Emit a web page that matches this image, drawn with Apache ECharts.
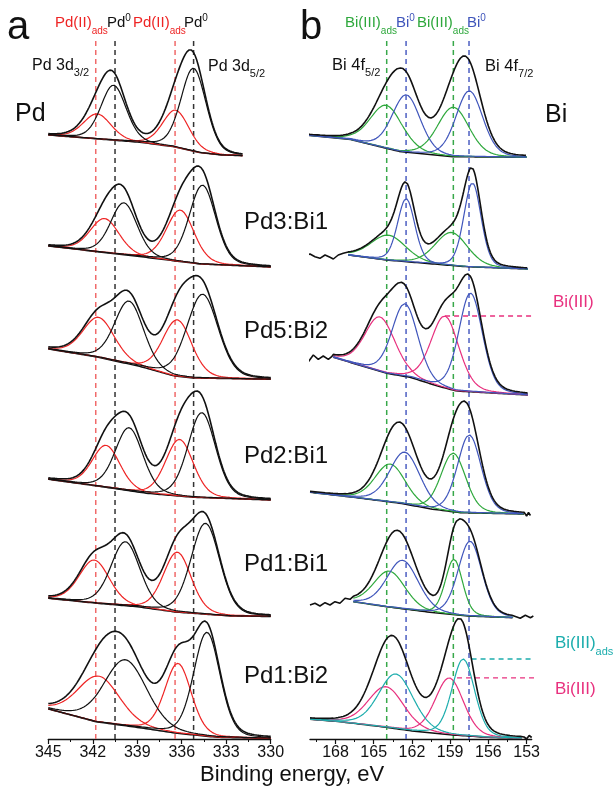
<!DOCTYPE html>
<html><head><meta charset="utf-8">
<script src="https://cdn.jsdelivr.net/npm/echarts@6/dist/echarts.min.js"></script>
<style>html,body{margin:0;padding:0;background:#fff}#c{width:616px;height:787px}</style>
</head><body><div id="c"></div>
<script>
// ================= DATA =================
const pdTicks = [345, 342, 339, 336, 333, 330];
const biTicks = [168, 165, 162, 159, 156, 153];
const biMinorTicks = [169.5, 166.5, 163.5, 160.5, 157.5, 154.5];
const pdRefLines = [341.8, 340.5, 336.45, 335.2];          // Pd(II)ads, Pd0, Pd(II)ads, Pd0
const pdRefKinds = ['Pd(II)ads', 'Pd0', 'Pd(II)ads', 'Pd0'];
const biRefLines = [163.98, 162.46, 158.75, 157.52];       // Bi(III)ads, Bi0, Bi(III)ads, Bi0
const biRefKinds = ['Bi(III)ads', 'Bi0', 'Bi(III)ads', 'Bi0'];
const samples = ['Pd', 'Pd3:Bi1', 'Pd5:Bi2', 'Pd2:Bi1', 'Pd1:Bi1', 'Pd1:Bi2'];

// Pd 3d: energy range of each spectrum (eV, stacked intensity, arb. units)
const pdRange = [[345, 331.9], [345, 330], [345, 330], [345, 330], [345, 330], [345, 330]];
const pdBaseline = [
  [[345, 604], [338.8, 596.7], [336.55, 592.3], [334.75, 586.3], [333.3, 584], [331.9, 583.3]],
  [[345, 493], [338.6, 482], [334.75, 475], [330, 472]],
  [[345, 390], [341.7, 382], [338.8, 372.5], [336.5, 363], [335.2, 361], [330, 359.7]],
  [[345, 259.7], [341.7, 253], [338.35, 245.7], [335.2, 241.7], [330, 239]],
  [[345, 140.7], [341.7, 135.7], [339.0, 132.3], [336.45, 127], [332.7, 123], [330, 122.5]],
  [[345, 30], [341.8, 17.3], [338.55, 10.7], [336.3, 5.7], [333.6, 1.7], [330, 0.5]]
];
// fitted components: [centre eV, height, FWHM eV]  (3d3/2, 3d5/2)
const pdOxide = [
  [[341.7, 25, 2.2], [336.4, 37, 2.1]],
  [[341.2, 34, 2.3], [336.1, 51.5, 2.2]],
  [[341.6, 40, 2.5], [336.3, 56.5, 2.3]],
  [[341.1, 42, 2.2], [336.15, 56.7, 2.2]],
  [[341.9, 43, 2.4], [336.3, 60, 2.2]],
  [[341.6, 46, 3.3], [336.25, 70, 2.1]]
];
const pdMetal = [
  [[340.6, 55, 2.0], [335.2, 83, 2.0]],
  [[339.9, 52, 2.1], [334.6, 79, 2.1]],
  [[339.55, 63, 2.3], [334.6, 84, 2.5]],
  [[339.55, 63, 2.2], [334.65, 85, 2.2]],
  [[339.8, 64, 2.3], [334.4, 91, 2.3]],
  [[339.8, 66, 3.4], [334.3, 104, 2.1]]
];

// Bi 4f
const biRange = [[170.4, 153.0], [167.0, 152.9], [168.17, 152.9], [170, 153.2], [166.6, 154.05], [170, 153.4]];
const biLeadNoise = [
  [],
  [[170.39, 483], [170.0, 485], [169.61, 482.3], [169.22, 480.7], [168.82, 484], [168.43, 481.7], [168.17, 480], [167.78, 484], [167.39, 485.7]],
  [[170.13, 377.3], [169.74, 384], [169.35, 379.7], [168.96, 383], [168.56, 379.7], [168.3, 382.3]],
  [],
  [[170.0, 134], [169.61, 135.7], [169.22, 133], [168.82, 136.3], [168.43, 134], [168.04, 137.3], [167.65, 135.7], [167.25, 140.7], [166.86, 139.7]],
  []
];
const biTailNoise = [
  [],
  [],
  [],
  [[153.0, 223], [152.85, 226.5], [152.7, 223.5]],
  [[153.5, 120.7], [153.1, 123.7], [152.7, 121.3], [152.47, 123]],
  [[153.2, 2], [153.0, 0], [152.8, 3.5], [152.6, 1.5]]
];
const biBaseline = [
  [[170.4, 604], [166.9, 599.7], [162.9, 587.3], [158.75, 582.3], [153, 581.7]],
  [[167.0, 484], [164.0, 479], [160.3, 475], [157.7, 472.3], [152.9, 470]],
  [[168.17, 381.7], [164.0, 365.7], [162.15, 361.7], [160, 353], [158.5, 348], [152.9, 344]],
  [[170, 246.7], [166.6, 241.7], [162.9, 235.7], [160.5, 230], [158.2, 226.3], [153.2, 225]],
  [[166.6, 137.3], [164.0, 132.3], [160.3, 126.3], [157.7, 123], [154.05, 121.3]],
  [[170, 19.7], [167.65, 17.3], [164.0, 11.7], [162.15, 8.3], [158.75, 4], [156.13, 1.7], [153.4, 0.7]]
];
// components: [centre eV, height, FWHM eV]  (4f5/2, 4f7/2)
const biFirst = [
  [[164.0, 43, 3.0], [158.75, 49.4, 2.9]],
  [[163.85, 25, 3.2], [158.9, 33, 3.0]],
  [[164.5, 54.5, 2.8], [159.4, 72, 2.6]],
  [[163.7, 38, 2.8], [158.75, 58.7, 2.3]],
  [[163.77, 36, 2.9], [158.7, 55.5, 1.6]],
  [[164.03, 40.6, 3.3], [159.06, 56.7, 2.6]]
];
const biFirstLabel = ['Bi(III)ads', 'Bi(III)ads', 'Bi(III)', 'Bi(III)ads', 'Bi(III)ads', 'Bi(III)'];
const biSecond = [
  [[162.45, 57.5, 2.6], [157.5, 66, 2.5]],
  [[162.45, 63, 1.6], [157.25, 84, 1.6]],
  [[162.55, 72.7, 2.4], [157.4, 98.7, 2.2]],
  [[162.55, 52, 2.8], [157.5, 78, 2.2]],
  [[162.73, 48.5, 2.9], [157.44, 75, 2.2]],
  [[163.25, 54.7, 3.2], [157.97, 76.7, 2.1]]
];
const biSecondLabel = ['Bi0', 'Bi0', 'Bi0', 'Bi0', 'Bi0', 'Bi(III)ads'];

// ================= STYLE =================
const FONT = '"Liberation Sans", Arial, sans-serif';
const RED = '#ee2424', RED_DASH = '#f06a6a', BLACK = '#111';
const GREEN = '#2ea83c', BLUE = '#3f55bb', PINK = '#e8307e', CYAN = '#1cadad';
const firstColor = {'Bi(III)ads': GREEN, 'Bi(III)': PINK};
const secondColor = {'Bi0': BLUE, 'Bi(III)ads': CYAN};
const refColor = {'Pd(II)ads': RED_DASH, 'Pd0': '#333', 'Bi(III)ads': '#38a84a', 'Bi0': '#4d5fc2'};
const MIX = 0.2, STEP = 0.05;

function peak(x, c, h, w) {
  const d = (x - c) / w;
  return h * ((1 - MIX) * Math.exp(-4 * Math.LN2 * d * d) + MIX / (1 + 4 * d * d));
}
function interp(knots, x) {
  for (let i = 0; i < knots.length - 1; i++) {
    const a = knots[i], b = knots[i + 1];
    if (x <= a[0] && x >= b[0]) return a[1] + (b[1] - a[1]) * (a[0] - x) / (a[0] - b[0]);
  }
  return x > knots[0][0] ? knots[0][1] : knots[knots.length - 1][1];
}
function grid(from, to) {
  const xs = [];
  for (let x = from; x > to + 1e-6; x -= STEP) xs.push(+x.toFixed(4));
  xs.push(to);
  return xs;
}
function line(xi, yi, data, color, width, z, extra) {
  return Object.assign({
    type: 'line', xAxisIndex: xi, yAxisIndex: yi, data: data, showSymbol: false, symbol: 'none',
    clip: false, silent: true, animation: false, z: z,
    lineStyle: {color: color, width: width}
  }, extra || {});
}
const series = [];
function spectrum(xi, yi, range, knots, comps, lead, tail) {
  const xs = grid(range[0], range[1]);
  const base = xs.map(x => interp(knots, x));
  series.push(line(xi, yi, xs.map((x, i) => [x, base[i]]), BLACK, 1.5, 3));
  const env = base.slice();
  comps.forEach(([list, color]) => {
    list.forEach(p => {
      const vals = xs.map(x => peak(x, p[0], p[1], p[2]));
      vals.forEach((v, i) => env[i] += v);
      series.push(line(xi, yi, xs.map((x, i) => [x, base[i] + vals[i]]), color, 1.2, 3));
    });
  });
  const envData = lead.concat(xs.map((x, i) => [x, env[i]])).concat(tail);
  series.push(line(xi, yi, envData, BLACK, 1.6, 4));
}

// vertical reference lines
const TOPV = 702;
pdRefLines.forEach((x, i) => series.push(line(0, 0, [[x, 0], [x, TOPV]], refColor[pdRefKinds[i]], 1.5, 1,
  {lineStyle: {color: refColor[pdRefKinds[i]], width: 1.5, type: [5, 4]}})));
biRefLines.forEach((x, i) => series.push(line(1, 1, [[x, 0], [x, TOPV]], refColor[biRefKinds[i]], 1.5, 1,
  {lineStyle: {color: refColor[biRefKinds[i]], width: 1.5, type: [5, 4]}})));

for (let k = 0; k < 6; k++) {
  spectrum(0, 0, pdRange[k], pdBaseline[k], [[pdOxide[k], RED], [pdMetal[k], BLACK]], [], []);
  spectrum(1, 1, biRange[k], biBaseline[k],
    [[biFirst[k], firstColor[biFirstLabel[k]]], [biSecond[k], secondColor[biSecondLabel[k]]]],
    biLeadNoise[k], biTailNoise[k]);
}

// dashed leader lines to the right-hand Bi(III) labels (start at the 4f7/2 component peak)
function peakPoint(k, comp) {
  const c = comp[1];
  return [c[0], interp(biBaseline[k], c[0]) + c[1]];
}
function leader(k, comp, color, startShift, endX) {
  const p = peakPoint(k, comp);
  series.push(line(1, 1, [[p[0] - startShift, p[1]], [endX, p[1]]], color, 1.3, 2,
    {lineStyle: {color: color, width: 1.3, type: [5, 4]}}));
}
leader(2, biFirst[2], PINK, 0, 147.55);
leader(5, biSecond[5], CYAN, 0.65, 145.9);
leader(5, biFirst[5], PINK, 0.6, 147.55);

// ================= TEXT =================
const mctx = document.createElement('canvas').getContext('2d');
function tw(t, s) { mctx.font = s + 'px ' + FONT; return mctx.measureText(t).width; }
const graphics = [];
function label(x, base, parts) {
  let cx = x;
  parts.forEach(([t, s, col, dy]) => {
    graphics.push({
      type: 'text', x: cx, y: base + (dy || 0) - 0.35 * s, silent: true, z: 10,
      style: {text: t, fill: col, font: s + 'px ' + FONT, align: 'left', verticalAlign: 'middle',
              textAlign: 'left', textVerticalAlign: 'middle'}
    });
    cx += tw(t, s);
  });
}
label(7, 42, [['a', 40, BLACK]]);
label(300, 42, [['b', 40, BLACK]]);
label(55, 28, [['Pd(II)', 15, RED], ['ads', 10, RED, 7]]);
label(107, 28, [['Pd', 15, BLACK], ['0', 10, BLACK, -6]]);
label(133, 28, [['Pd(II)', 15, RED], ['ads', 10, RED, 7]]);
label(184, 28, [['Pd', 15, BLACK], ['0', 10, BLACK, -6]]);
label(345, 28, [['Bi(III)', 15, GREEN], ['ads', 10, GREEN, 7]]);
label(396, 28, [['Bi', 15, BLUE], ['0', 10, BLUE, -6]]);
label(417, 28, [['Bi(III)', 15, GREEN], ['ads', 10, GREEN, 7]]);
label(467, 28, [['Bi', 15, BLUE], ['0', 10, BLUE, -6]]);
label(32, 71, [['Pd 3d', 16, BLACK], ['3/2', 11, BLACK, 6]]);
label(208, 72, [['Pd 3d', 16, BLACK], ['5/2', 11, BLACK, 6]]);
label(332, 71, [['Bi 4f', 16.5, BLACK], ['5/2', 11, BLACK, 6]]);
label(485, 72, [['Bi 4f', 16.5, BLACK], ['7/2', 11, BLACK, 6]]);
label(15, 123, [[samples[0], 25, BLACK]]);
label(545, 124, [['Bi', 25, BLACK]]);
const sampleBase = [null, 230.6, 339.6, 464.6, 572.6, 684.6];
for (let k = 1; k < 6; k++) label(244, sampleBase[k], [[samples[k], 24, BLACK]]);
label(553, 308, [['Bi(III)', 17, PINK]]);
label(555, 649, [['Bi(III)', 17, CYAN], ['ads', 11, CYAN, 7]]);
label(555, 695, [['Bi(III)', 17, PINK]]);
label(200, 783, [['Binding energy, eV', 22, BLACK]]);

// ================= CHART =================
const axisCommon = {
  type: 'value', inverse: true, position: 'bottom', offset: 0,
  axisLine: {onZero: false, lineStyle: {color: BLACK, width: 1.3}},
  axisTick: {length: 5, lineStyle: {color: BLACK, width: 1.2}},
  axisLabel: {fontSize: 16, color: BLACK, fontFamily: FONT, margin: 6},
  splitLine: {show: false}
};
const chart = echarts.init(document.getElementById('c'), null, {renderer: 'canvas'});
chart.setOption({
  animation: false,
  backgroundColor: '#fff',
  grid: [
    {left: 48.3, right: 345.3, top: 0, bottom: 48},
    {left: 310, right: 84.3, top: 0, bottom: 48}
  ],
  xAxis: [
    Object.assign({}, axisCommon, {gridIndex: 0, min: 330, max: 345, interval: 3,
      minorTick: {show: true, splitNumber: 2, length: 3, lineStyle: {color: BLACK, width: 1}},
      minorSplitLine: {show: false}}),
    Object.assign({}, axisCommon, {gridIndex: 1, min: 152.6, max: 170,
      axisTick: {length: 5, customValues: biTicks, lineStyle: {color: BLACK, width: 1.2}},
      axisLabel: {fontSize: 16, color: BLACK, fontFamily: FONT, margin: 6, customValues: biTicks}}),
    Object.assign({}, axisCommon, {gridIndex: 1, min: 152.6, max: 170,
      axisLine: {show: false},
      axisTick: {length: 3, customValues: biMinorTicks, lineStyle: {color: BLACK, width: 1}},
      axisLabel: {show: false}})
  ],
  yAxis: [
    {gridIndex: 0, type: 'value', min: 0, max: 739, show: false},
    {gridIndex: 1, type: 'value', min: 0, max: 739, show: false}
  ],
  series: series,
  graphic: graphics
});
</script>
</body></html>
